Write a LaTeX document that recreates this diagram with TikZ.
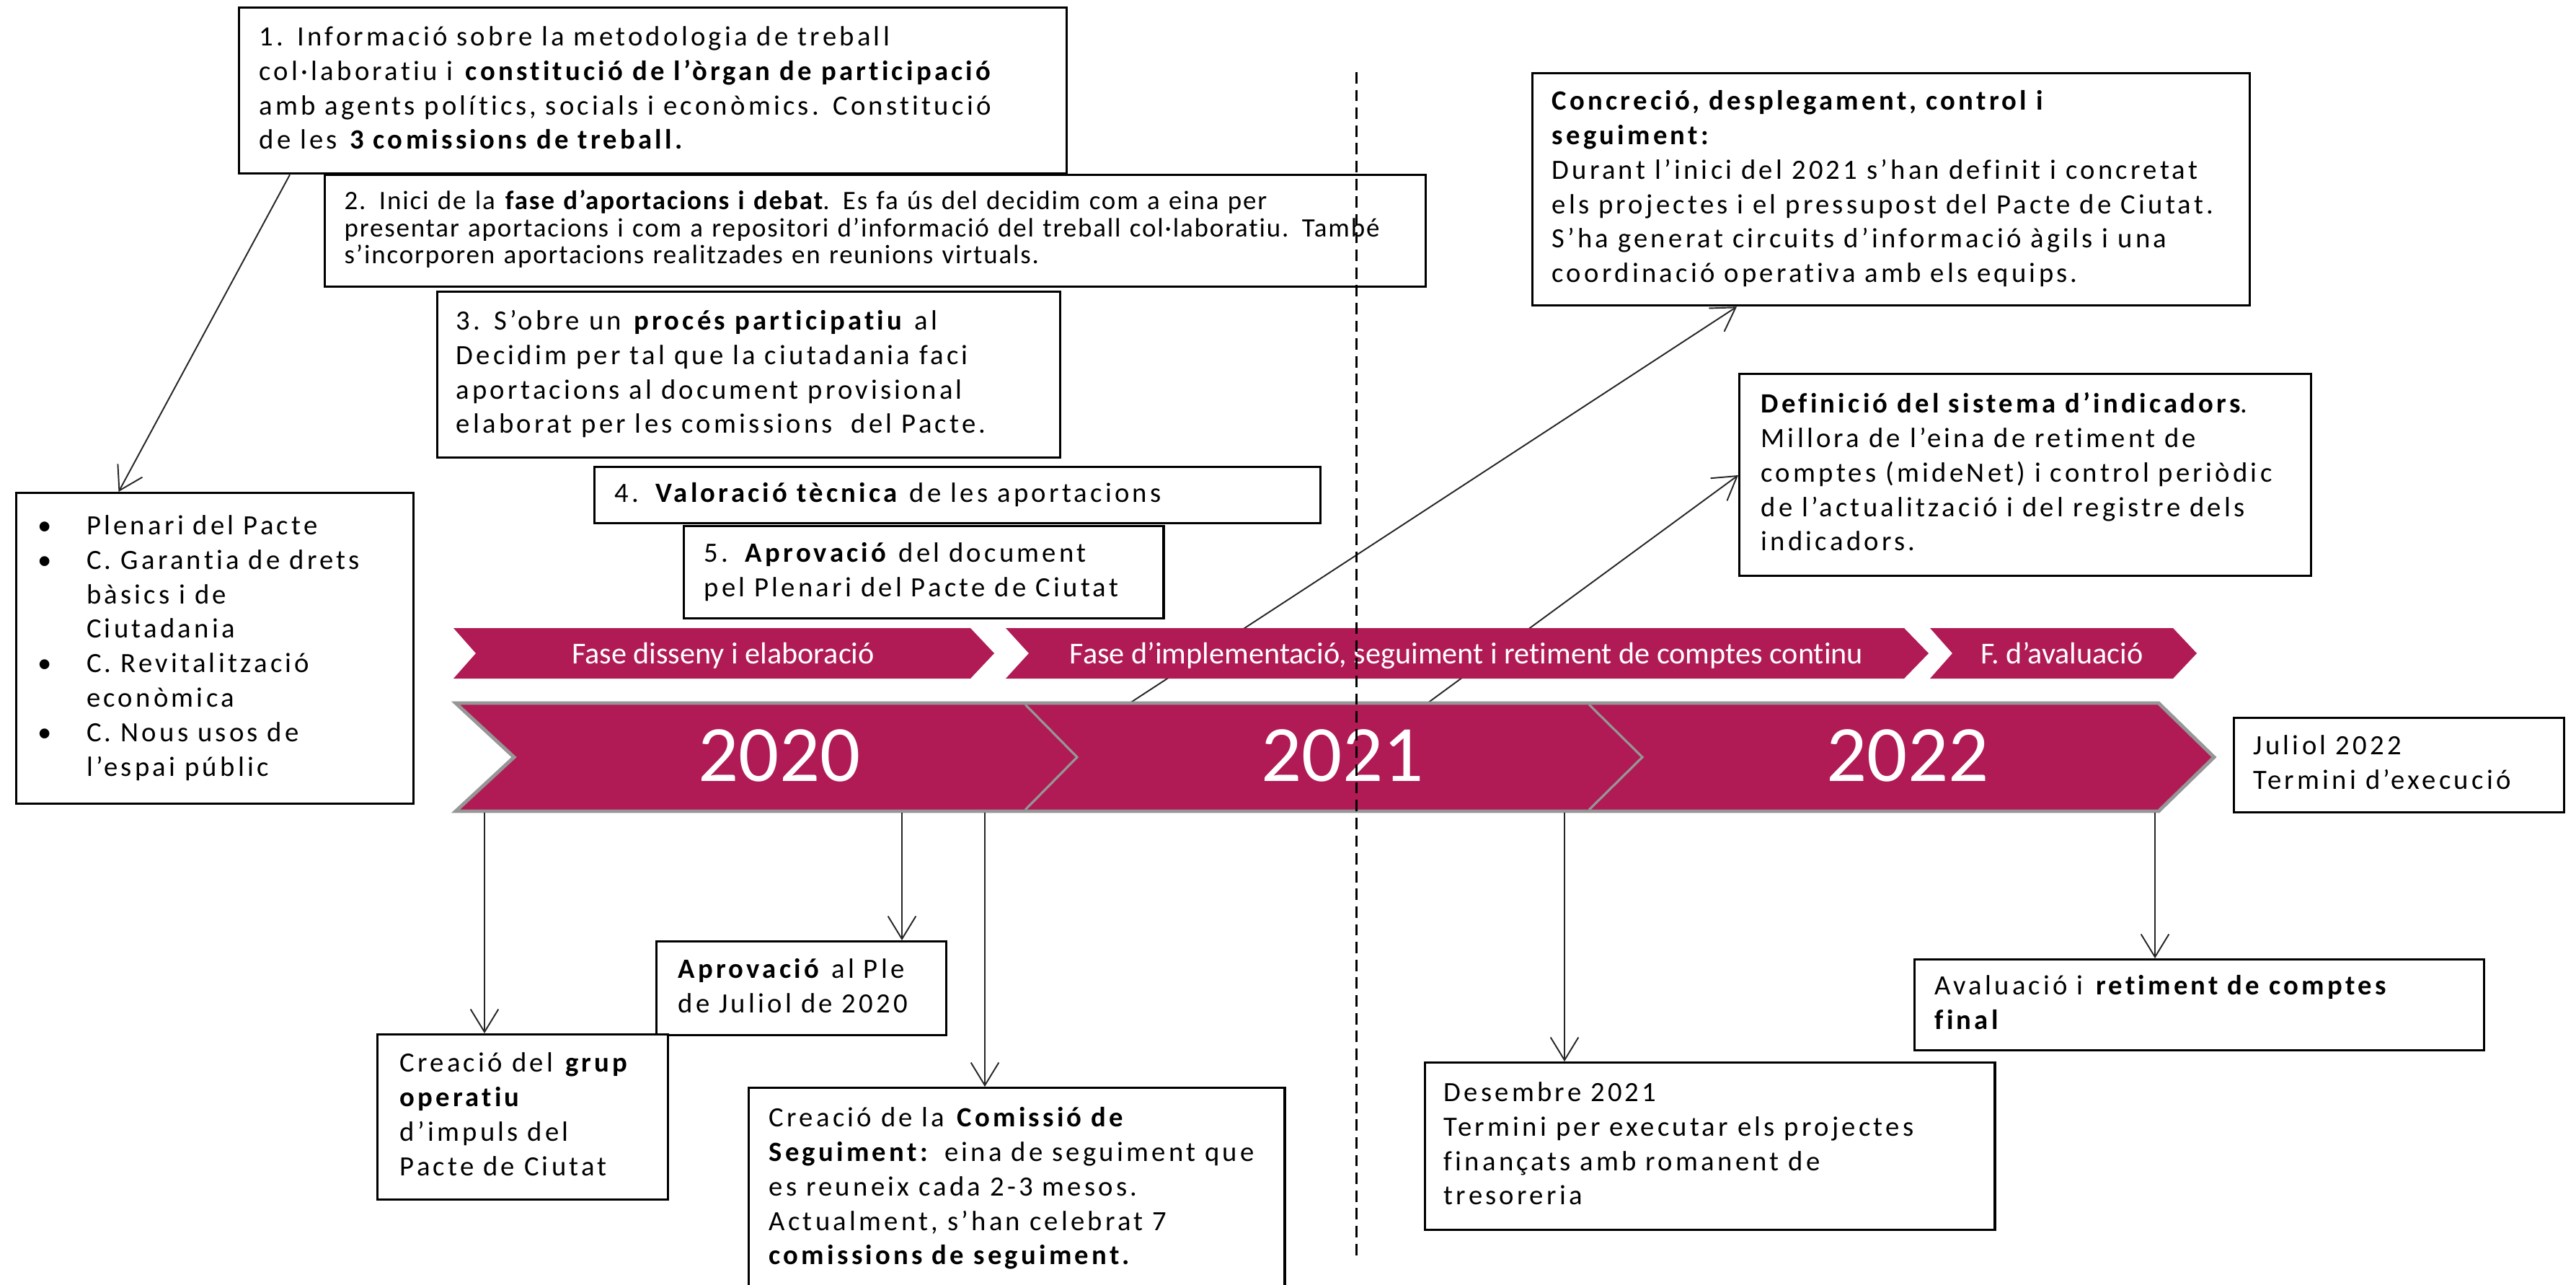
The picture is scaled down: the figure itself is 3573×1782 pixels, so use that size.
\documentclass[tikz,border=0pt]{standalone}
\usepackage{fontspec}
\setmainfont[Ligatures=NoCommon]{Carlito}
\newfontfamily\bodyfont[LetterSpace=11,Ligatures=NoCommon]{Carlito}
\newfontfamily\narrowfont[LetterSpace=5,Ligatures=NoCommon]{Carlito}
\usetikzlibrary{arrows.meta,calc}
\definecolor{mag}{RGB}{176,27,85}
\definecolor{bandgray}{RGB}{150,150,150}
\newcommand\tl[1]{\begin{tabular}{@{}l@{}}#1\end{tabular}}
\begin{document}
\begin{tikzpicture}[x=0.01cm,y=-0.01cm,
  box/.style={draw=black, line width=0.9pt, fill=white, anchor=north west, inner ysep=0pt, align=left,
    font=\bodyfont\fontsize{11}{13.6}\selectfont},
  arr/.style={draw=black!85, line width=0.55pt, -{Straight Barb[length=9pt,width=11pt,line width=0.55pt]}},
  phasebar/.style={fill=mag},
  phasetxt/.style={text=white, font=\fontsize{12}{14}\selectfont, anchor=base, inner sep=0pt},
  yeartxt/.style={text=white, font=\fontsize{31.5}{36}\selectfont, anchor=base, inner sep=0pt},
  bandshape/.style={fill=mag, draw=bandgray, line width=1.4pt, line join=miter},
  divider/.style={draw=bandgray, line width=0.9pt},
  sepline/.style={draw=black, line width=0.85pt, dash pattern=on 4.5pt off 2.5pt}]
\useasboundingbox (0,0) rectangle (3573,1782);

% ---- boxes ----
\node[box, minimum width=11.47cm, minimum height=2.30cm, inner xsep=0.28cm, text width=10.91cm] (box1) at (330,9)
 {\tl{1. Informació sobre la metodologia de treball\\ col·laboratiu i \textbf{constitució de l’òrgan de participació}\\ amb agents polítics, socials i econòmics. Constitució\\ de les \textbf{3 comissions de treball.}}};
\node[box, minimum width=15.26cm, minimum height=1.55cm, inner xsep=0.27cm, text width=14.72cm,
  font=\narrowfont\fontsize{10.5}{10.5}\selectfont] (box2) at (449,241)
 {\tl{2. Inici de la \textbf{fase d’aportacions i debat}. Es fa ús del decidim com a eina per\\ presentar aportacions i com a repositori d’informació del treball col·laboratiu. També\\ s’incorporen aportacions realitzades en reunions virtuals.}};
\node[box, minimum width=8.63cm, minimum height=2.30cm, inner xsep=0.26cm, text width=8.11cm] (box3) at (605,403)
 {\tl{3. S’obre un \textbf{procés participatiu} al\\ Decidim per tal que la ciutadania faci\\ aportacions al document provisional\\ elaborat per les comissions \ del Pacte.}};
\node[box, minimum width=10.06cm, minimum height=0.78cm, inner xsep=0.28cm, text width=9.50cm] (box4) at (823,646)
 {\tl{4. \textbf{Valoració tècnica} de les aportacions}};
\node[box, minimum width=6.65cm, minimum height=1.28cm, inner xsep=0.28cm, text width=6.09cm] (box5) at (947,728)
 {\tl{5. \textbf{Aprovació} del document\\ pel Plenari del Pacte de Ciutat}};
\node[box, minimum width=5.51cm, minimum height=4.31cm, inner xsep=0.30cm, text width=4.91cm] (plen) at (21,682)
 {\begin{tabular}{@{}p{0.675cm}@{}l@{}}
  •& Plenari del Pacte\\ •& C. Garantia de drets\\ & bàsics i de\\ & Ciutadania\\
  •& C. Revitalització\\ & econòmica\\ •& C. Nous usos de\\ & l’espai públic\end{tabular}};
\node[box, minimum width=9.94cm, minimum height=3.22cm, inner xsep=0.27cm, text width=9.40cm] (conc) at (2124,100)
 {\tl{\textbf{Concreció, desplegament, control i}\\ \textbf{seguiment:}\\ Durant l’inici del 2021 s’han definit i concretat\\ els projectes i el pressupost del Pacte de Ciutat.\\ S’ha generat circuits d’informació àgils i una\\ coordinació operativa amb els equips.}};
\node[box, minimum width=7.92cm, minimum height=2.80cm, inner xsep=0.30cm, text width=7.32cm] (defi) at (2411,517)
 {\tl{\textbf{Definició del sistema d’indicadors}.\\ Millora de l’eina de retiment de\\ comptes (mideNet) i control periòdic\\ de l’actualització i del registre dels\\ indicadors.}};
\node[box, minimum width=4.58cm, minimum height=1.31cm, inner xsep=0.27cm, text width=4.04cm] (jul) at (3097,994)
 {\tl{Juliol 2022\\ Termini d’execució}};
\node[box, minimum width=7.89cm, minimum height=1.26cm, inner xsep=0.28cm, text width=7.33cm] (aval) at (2654,1329)
 {\tl{Avaluació i \textbf{retiment de comptes}\\ \textbf{final}}};
\node[box, minimum width=7.90cm, minimum height=2.32cm, inner xsep=0.26cm, text width=7.38cm] (desem) at (1975,1472)
 {\tl{Desembre 2021\\ Termini per executar els projectes\\ finançats amb romanent de\\ tresoreria}};
\node[box, minimum width=4.02cm, minimum height=1.30cm, inner xsep=0.30cm, text width=3.42cm] (aprov) at (909,1304)
 {\tl{\textbf{Aprovació} al Ple\\ de Juliol de 2020}};
\node[box, minimum width=4.03cm, minimum height=2.29cm, inner xsep=0.31cm, text width=3.41cm] (grup) at (522,1433)
 {\tl{Creació del \textbf{grup}\\ \textbf{operatiu}\\ d’impuls del\\ Pacte de Ciutat}};
\node[box, minimum width=7.43cm, minimum height=2.80cm, inner xsep=0.28cm, text width=6.87cm] (comis) at (1037,1507)
 {\tl{Creació de la \textbf{Comissió de}\\ \textbf{Seguiment:} eina de seguiment que\\ es reuneix cada 2-3 mesos.\\ Actualment, s’han celebrat 7\\ \textbf{comissions de seguiment.}}};

% ---- connectors under the bars ----
\coordinate (d1) at (1567,975);
\coordinate (d2) at (1980,975);
\draw[arr] (d1) -- ($(conc.south west)+(285,0)$);
\draw[arr] (d2) -- ($(defi.north west)+(0,142)$);
\draw[arr] ($(box1.south west)+(72,0)$) -- ($(plen.north west)+(143.5,0)$);

% ---- phase bars ----
\fill[phasebar] (629,871) -- (1346,871) -- (1379,906) -- (1346,941) -- (629,941) -- (660,906) -- cycle;
\fill[phasebar] (1395,871) -- (2641,871) -- (2675,906) -- (2641,941) -- (1395,941) -- (1427,906) -- cycle;
\fill[phasebar] (2677,871) -- (3014,871) -- (3047,906) -- (3014,941) -- (2677,941) -- (2708,906) -- cycle;
\node[phasetxt] (ph1) at (1003,920) {Fase disseny i elaboració};
\node[phasetxt] (ph2) at (2034,920) {Fase d’implementació, seguiment i retiment de comptes continu};
\node[phasetxt] (ph3) at (2860,920) {F. d’avaluació};

% ---- year band ----
\path[bandshape] (632,975) -- (2994,975) -- (3071,1050) -- (2994,1125) -- (632,1125) -- (713,1050) -- cycle;
\draw[divider] (1422,977) -- (1494,1050) -- (1422,1123);
\draw[divider] (2204,977) -- (2278,1050) -- (2204,1123);
\node[yeartxt] (y20) at (1081,1083) {2020};
\node[yeartxt] (y21) at (1862,1083) {2021};
\node[yeartxt] (y22) at (2646,1083) {2022};

% ---- connectors below the band ----
\coordinate (t1) at (672,1127);
\coordinate (t2) at (1251,1127);
\coordinate (t3) at (1366,1127);
\coordinate (t4) at (2170,1127);
\coordinate (t5) at (2989,1127);
\draw[arr] (t1) -- (t1 |- grup.north);
\draw[arr] (t2) -- (t2 |- aprov.north);
\draw[arr] (t3) -- (t3 |- comis.north);
\draw[arr] (t4) -- (t4 |- desem.north);
\draw[arr] (t5) -- (t5 |- aval.north);

% ---- dashed separator ----
\coordinate (dtop) at (1881,100);
\coordinate (dbot) at (1881,1743);
\draw[sepline] (dtop) -- (dbot);
\end{tikzpicture}
\end{document}
